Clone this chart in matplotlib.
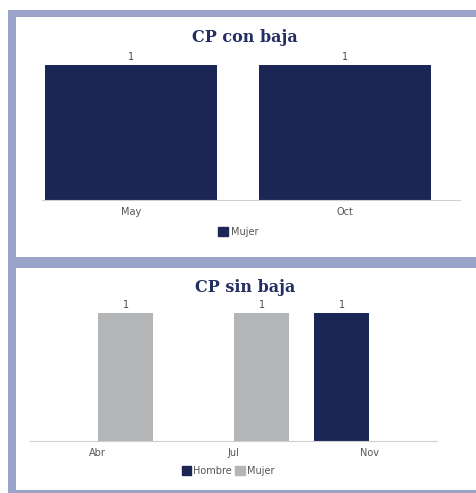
import matplotlib
matplotlib.use('Agg')
import matplotlib.pyplot as plt
import numpy as np
from matplotlib.patches import Rectangle, Patch

# data
meses_con = ['May', 'Oct']
mujer_con = [1, 1]

meses_sin = ['Abr', 'Jul', 'Nov']
hombre_sin = [0, 0, 1]
mujer_sin = [1, 1, 0]

navy = '#1b2655'
gris = '#b3b5b6'
marco = '#9ba3c9'
titulo_col = '#232e62'
texto = '#555555'

W, H = 477, 493
fig = plt.figure(figsize=(W / 100, H / 100), dpi=100)
fig.patch.set_facecolor('white')


def px(x0, y0, x1, y1):
    # pixel box (from top-left) -> figure fraction [l, b, w, h]
    return [x0 / W, 1 - y1 / H, (x1 - x0) / W, (y1 - y0) / H]


# blue frame and white panels
fig.patches.append(Rectangle((8 / W, 0), 1, 1 - 10 / H, transform=fig.transFigure,
                             facecolor=marco, edgecolor='none', zorder=-10))
for y0, y1 in [(17, 257), (268, 490)]:
    l, b, w, h = px(16, y0, W, y1)
    fig.patches.append(Rectangle((l, b), w + 0.01, h, transform=fig.transFigure,
                                 facecolor='white', edgecolor='none', zorder=-9))

# ---- CP con baja
ax1 = fig.add_axes(px(42, 65, 460, 200))
x1 = np.arange(len(meses_con))
b1 = ax1.bar(x1, mujer_con, width=0.80, color=navy)
ax1.set_xlim((42 - 131) / 214, (460 - 131) / 214)
ax1.set_ylim(0, 1)
for r, v in zip(b1, mujer_con):
    ax1.text(r.get_x() + r.get_width() / 2, v + 0.02, str(v), ha='center', va='bottom',
             fontsize=7, color='#444444', family='DejaVu Sans Mono', clip_on=False)
ax1.set_xticks(x1)
ax1.set_xticklabels(meses_con)
fig.text(245 / W, 1 - 38 / H, 'CP con baja', ha='center', va='center', fontsize=11.5,
         fontweight='bold', family='DejaVu Serif', color=titulo_col)
fig.legend([Patch(color=navy)], ['Mujer'], loc='center', bbox_to_anchor=(238 / W, 1 - 232 / H),
           frameon=False, fontsize=7, handlelength=1, handleheight=1, handletextpad=0.3,
           labelcolor=texto)

# ---- CP sin baja
ax2 = fig.add_axes(px(30, 313, 437, 441))
x2 = np.arange(len(meses_sin))
bh = ax2.bar(x2 - 0.205, hombre_sin, width=0.405, color=navy)
bm = ax2.bar(x2 + 0.205, mujer_sin, width=0.405, color=gris)
ax2.set_xlim(-0.5, 2.5)
ax2.set_ylim(0, 1)
for bars, vals in [(bh, hombre_sin), (bm, mujer_sin)]:
    for r, v in zip(bars, vals):
        if v:
            ax2.text(r.get_x() + r.get_width() / 2, v + 0.02, str(v), ha='center', va='bottom',
                     fontsize=7, color='#444444', family='DejaVu Sans Mono', clip_on=False)
ax2.set_xticks(x2)
ax2.set_xticklabels(meses_sin)
fig.text(245 / W, 1 - 287 / H, 'CP sin baja', ha='center', va='center', fontsize=11.5,
         fontweight='bold', family='DejaVu Serif', color=titulo_col)
fig.legend([Patch(color=navy), Patch(color=gris)], ['Hombre', 'Mujer'], loc='center',
           bbox_to_anchor=(228 / W, 1 - 471 / H), ncol=2, frameon=False, fontsize=7,
           handlelength=1, handleheight=1, handletextpad=0.2, columnspacing=0.3,
           labelcolor=texto)

for ax in (ax1, ax2):
    ax.set_facecolor('none')
    ax.set_zorder(5)
    for s in ['top', 'right', 'left']:
        ax.spines[s].set_visible(False)
    ax.spines['bottom'].set_color('#cfcfcf')
    ax.spines['bottom'].set_linewidth(0.8)
    ax.set_yticks([])
    ax.tick_params(axis='x', length=0, pad=5, labelsize=7, labelcolor=texto)

fig.savefig('out.png', dpi=100)
